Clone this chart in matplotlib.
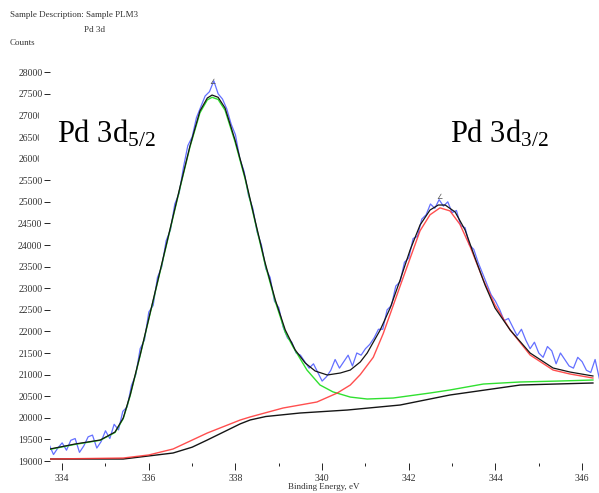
import numpy as np
import matplotlib
matplotlib.use('Agg')
from matplotlib import pyplot as plt
from matplotlib.patches import Rectangle

plt.rc('font', family='Liberation Serif')
plt.rc('mathtext', default='regular')

# raw spectrum (blue), 0.1 eV steps
raw_be = np.round(np.arange(333.7, 346.45, 0.1), 2)
raw_counts = [
    19380, 19150, 19300, 19420, 19250, 19480, 19520, 19200, 19350, 19560,
    19600, 19300, 19450, 19700, 19520, 19850, 19720, 20150, 20250, 20750,
    21000, 21600, 21800, 22450, 22600, 23250, 23500, 24100, 24350, 24950,
    25200, 25800, 26300, 26500, 26950, 27200, 27450, 27550, 27800, 27500,
    27380, 27150, 26800, 26550, 26000, 25700, 25150, 24850, 24300, 24000,
    23450, 23250, 22700, 22550, 22100, 21850, 21750, 21500, 21450, 21300,
    21150, 21250, 21050, 20850, 20950, 21100, 21350, 21150, 21300, 21450,
    21200, 21500, 21450, 21600, 21700, 21850, 22050, 22050, 22500, 22600,
    23050, 23150, 23600, 23700, 24150, 24200, 24600, 24700, 24950, 24850,
    25050, 24900, 25000, 24750, 24800, 24450, 24400, 24000, 23900, 23600,
    23350, 23100, 22850, 22700, 22500, 22250, 22300, 22100, 21900, 22050,
    21800, 21600, 21750, 21500, 21400, 21650, 21550, 21250, 21500, 21350,
    21200, 21150, 21400, 21300, 21100, 21050, 21350, 20900,
]

# fitted envelope (black)
env_be = [333.72, 334.30, 334.88, 335.22, 335.41, 335.57, 335.80, 336.03, 336.26,
          336.49, 336.72, 336.95, 337.18, 337.35, 337.46, 337.60, 337.76, 337.99,
          338.22, 338.45, 338.68, 338.92, 339.15, 339.38, 339.61, 339.84, 340.12,
          340.42, 340.65, 340.88, 341.04, 341.34, 341.57, 341.80, 342.03, 342.26,
          342.49, 342.68, 342.84, 343.07, 343.30, 343.53, 343.76, 343.99, 344.34,
          344.80, 345.33, 345.72, 346.25]
env_counts = [19278, 19394, 19486, 19671, 19995, 20528, 21454, 22426, 23398,
              24370, 25343, 26292, 27102, 27403, 27472, 27420, 27171, 26431,
              25574, 24579, 23606, 22727, 22032, 21569, 21269, 21083, 20991,
              21037, 21106, 21292, 21500, 22032, 22542, 23190, 23884, 24463,
              24810, 24926, 24926, 24764, 24347, 23699, 23074, 22542, 22032,
              21500, 21153, 21060, 20968]

# Pd 3d5/2 component + background (green)
d52_be = [333.72, 334.30, 334.88, 335.22, 335.41, 335.57, 335.80, 336.03, 336.26,
          336.49, 336.72, 336.95, 337.18, 337.35, 337.46, 337.60, 337.76, 337.99,
          338.22, 338.45, 338.68, 338.92, 339.15, 339.33, 339.65, 339.95, 340.25,
          340.65, 341.04, 341.64, 342.49, 342.95, 343.72, 344.57, 345.49, 346.25]
d52_counts = [19270, 19385, 19480, 19660, 19980, 20510, 21440, 22410, 23380,
              24350, 25320, 26270, 27060, 27360, 27420, 27370, 27120, 26390,
              25540, 24550, 23570, 22690, 21980, 21640, 21106, 20760, 20600,
              20480, 20435, 20458, 20574, 20644, 20782, 20829, 20852, 20875]

# Pd 3d3/2 component + background (red)
d32_be = [333.72, 335.41, 336.00, 336.56, 337.35, 338.11, 338.34, 339.10, 339.88,
          340.35, 340.65, 340.88, 341.18, 341.41, 341.80, 342.26, 342.49, 342.72,
          342.95, 343.18, 343.42, 343.72, 343.99, 344.34, 344.80, 345.33, 345.72,
          346.25]
d32_counts = [19046, 19069, 19140, 19278, 19648, 19949, 20020, 20227, 20366,
              20574, 20759, 21000, 21400, 21950, 23050, 24330, 24700, 24860,
              24790, 24480, 23954, 23190, 22611, 22032, 21454, 21106, 21014,
              20921]

# Shirley background (black)
bg_be = [333.72, 335.41, 336.56, 337.00, 337.35, 338.11, 338.34, 338.70, 339.49,
         340.58, 341.80, 342.95, 344.57, 346.25]
bg_counts = [19046, 19046, 19185, 19320, 19486, 19860, 19950, 20030, 20111,
             20180, 20296, 20528, 20759, 20806]

y_ticks = np.arange(19000, 28001, 500)
x_major = [334, 336, 338, 340, 342, 344, 346]
x_minor = [335, 337, 339, 341, 343, 345]

fig = plt.figure(figsize=(5.99, 4.93), dpi=100)
ax = fig.add_axes([0.0835, 0.0614, 0.9165, 0.8096])

ax.plot(raw_be, raw_counts, '-', color='#3040ff', lw=0.9, alpha=0.75, zorder=2)
ax.plot(bg_be, bg_counts, '-', color='#151515', lw=1.0, zorder=3)
ax.plot(d52_be, d52_counts, '-', color='#30e030', lw=1.0, zorder=3)
ax.plot(d32_be, d32_counts, '-', color='#ff3030', lw=1.0, alpha=0.85, zorder=3)
ax.plot(env_be, env_counts, '-', color='#151515', lw=0.9, zorder=4)

# peak markers
ax.text(337.46, 27700, '\u2220', fontsize=5, color='#555555', ha='center', va='bottom',
        family='DejaVu Sans')
ax.text(342.72, 25050, '\u2220', fontsize=5, color='#555555', ha='center', va='bottom',
        family='DejaVu Sans')

ax.set_xlim(333.72, 346.39)
ax.set_ylim(18960, 28200)
for s in ax.spines.values():
    s.set_visible(False)
ax.set_xticks(x_major)
ax.set_xticks(x_minor, minor=True)
ax.set_yticks(y_ticks)
ax.set_yticklabels([str(v) for v in y_ticks])
ax.tick_params(axis='y', direction='out', length=4, width=0.6, pad=1.5,
               labelsize=7, labelcolor='#333333')
ax.tick_params(axis='x', which='major', direction='out', length=5, width=0.6, pad=3,
               labelsize=7, labelcolor='#333333')
ax.tick_params(axis='x', which='minor', direction='out', length=2, width=0.6)

# header / axis texts
fig.text(10 / 599, 1 - 15 / 493, 'Sample Description: Sample PLM3', fontsize=6.5,
         color='#333333', va='center')
fig.text(95 / 599, 1 - 30 / 493, 'Pd 3d', fontsize=6.5, color='#333333',
         va='center', ha='center')
fig.text(10 / 599, 1 - 43 / 493, 'Counts', fontsize=6.5, color='#333333', va='center')
fig.text(288 / 599, 1 - 487 / 493, 'Binding Energy, eV', fontsize=6.5,
         color='#333333', va='center')

# white label boxes over the plot
fig.patches.append(Rectangle((39 / 599, 1 - 176 / 493), 139 / 599, 76 / 493,
                             transform=fig.transFigure, facecolor='white',
                             edgecolor='none', zorder=5))
fig.text(57 / 599, 1 - 142 / 493, r'Pd 3d$_{5/2}$', fontsize=22, va='baseline',
         zorder=6)
fig.text(450 / 599, 1 - 142 / 493, r'Pd 3d$_{3/2}$', fontsize=22, va='baseline',
         zorder=6)

fig.savefig('out.png', dpi=100)
plt.close()
